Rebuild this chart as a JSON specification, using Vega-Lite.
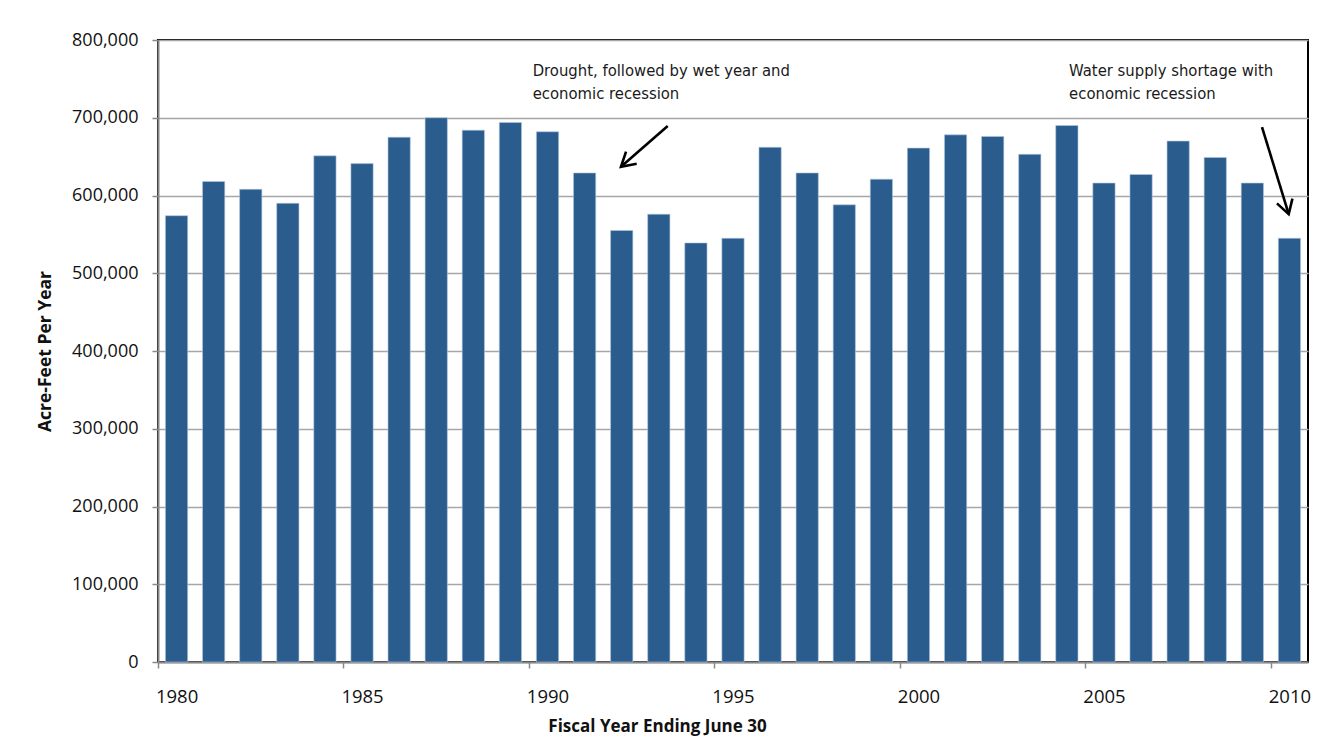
{
  "$schema": "https://vega.github.io/schema/vega-lite/v6.json",
  "autosize": {"type": "none"},
  "width": 1150,
  "height": 622,
  "padding": {"left": 158, "top": 40, "right": 11, "bottom": 87},
  "background": "white",
  "config": {
    "view": {"stroke": "#000000", "strokeWidth": 2},
    "font": "Open Sans",
    "axis": {"labelFont": "Open Sans", "titleFont": "Open Sans", "labelColor": "#111111", "titleColor": "#111111"}
  },
  "encoding": {
    "y": {
      "field": "af", "type": "quantitative",
      "scale": {"domain": [0, 800000], "nice": false},
      "axis": {
        "values": [0, 100000, 200000, 300000, 400000, 500000, 600000, 700000, 800000],
        "format": ",.0f", "labelFontSize": 18, "labelPadding": 14,
        "tickSize": 6, "tickColor": "#888888", "tickWidth": 1.5,
        "domainColor": "#888888", "domainWidth": 2,
        "gridColor": "#a6a6a6", "gridWidth": 1.5,
        "title": "Acre-Feet Per Year",
        "titleFontSize": 17.5, "titleFontWeight": "bold",
        "titleX": -113, "titleY": 311, "titleAlign": "center", "titleBaseline": "middle", "titleAngle": 270
      }
    }
  },
  "layer": [
    {
      "data": {"values": [
        {"year": 1980, "af": 574000}, {"year": 1981, "af": 618000}, {"year": 1982, "af": 608000},
        {"year": 1983, "af": 590000}, {"year": 1984, "af": 651000}, {"year": 1985, "af": 641000},
        {"year": 1986, "af": 675000}, {"year": 1987, "af": 700000}, {"year": 1988, "af": 684000},
        {"year": 1989, "af": 694000}, {"year": 1990, "af": 682000}, {"year": 1991, "af": 629000},
        {"year": 1992, "af": 555000}, {"year": 1993, "af": 576000}, {"year": 1994, "af": 539000},
        {"year": 1995, "af": 545000}, {"year": 1996, "af": 662000}, {"year": 1997, "af": 629000},
        {"year": 1998, "af": 588000}, {"year": 1999, "af": 621000}, {"year": 2000, "af": 661000},
        {"year": 2001, "af": 678000}, {"year": 2002, "af": 676000}, {"year": 2003, "af": 653000},
        {"year": 2004, "af": 690000}, {"year": 2005, "af": 616000}, {"year": 2006, "af": 627000},
        {"year": 2007, "af": 670000}, {"year": 2008, "af": 649000}, {"year": 2009, "af": 616000},
        {"year": 2010, "af": 545000}
      ]},
      "mark": {"type": "bar", "color": "#2B5C8E", "stroke": "#b4c7de", "strokeWidth": 0.6},
      "encoding": {
        "x": {
          "field": "year", "type": "ordinal",
          "scale": {"paddingInner": 0.4, "paddingOuter": 0.2},
          "axis": {
            "values": [1980, 1985, 1990, 1995, 2000, 2005, 2010],
            "labelAngle": 0, "labelFontSize": 18.5, "labelPadding": 19,
            "tickOffset": -18.55, "labelOffset": 18.55,
            "tickSize": 6, "tickColor": "#888888", "tickWidth": 1.5,
            "domainColor": "#888888", "domainWidth": 2,
            "title": "Fiscal Year Ending June 30",
            "titleFontSize": 17, "titleFontWeight": "bold",
            "titleX": 499, "titleY": 64, "titleAlign": "center", "titleBaseline": "middle", "titleAnchor": null
          }
        }
      }
    },
    {
      "layer": [
        {
          "data": {"values": [
            {"x": 1989.6, "af": 760500, "label": "Drought, followed by wet year and"},
            {"x": 1989.6, "af": 730500, "label": "economic recession"},
            {"x": 2004.06, "af": 760500, "label": "Water supply shortage with"},
            {"x": 2004.06, "af": 730500, "label": "economic recession"}
          ]},
          "mark": {"type": "text", "align": "left", "baseline": "middle", "font": "Liberation Sans Narrow, DejaVu Sans Condensed, sans-serif", "fontSize": 16.5, "color": "#1a1a1a"},
          "encoding": {
            "x": {"field": "x", "type": "quantitative", "scale": {"domain": [1979.5, 2010.5], "nice": false, "zero": false}, "axis": null},
            "text": {"field": "label"}
          }
        },
        {
          "data": {"values": [
            {"x": 1993.24, "af": 689300, "x2": 1991.98, "af2": 637000},
            {"x": 2009.26, "af": 688000, "x2": 2009.98, "af2": 576000}
          ]},
          "mark": {"type": "rule", "color": "#000000", "strokeWidth": 2.6},
          "encoding": {
            "x": {"field": "x", "type": "quantitative", "scale": {"domain": [1979.5, 2010.5], "nice": false, "zero": false}, "axis": null},
            "x2": {"field": "x2"},
            "y2": {"field": "af2"}
          }
        },
        {
          "data": {"values": [{"x": 1991.98, "af": 637000}]},
          "mark": {"type": "point", "shape": "M -0.5 -0.85 L 0 0 L 0.5 -0.85", "filled": false, "stroke": "#000000", "strokeWidth": 2.6, "size": 1050, "angle": 49, "opacity": 1},
          "encoding": {
            "x": {"field": "x", "type": "quantitative", "scale": {"domain": [1979.5, 2010.5], "nice": false, "zero": false}, "axis": null}
          }
        },
        {
          "data": {"values": [{"x": 2009.98, "af": 576000}]},
          "mark": {"type": "point", "shape": "M -0.5 -0.85 L 0 0 L 0.5 -0.85", "filled": false, "stroke": "#000000", "strokeWidth": 2.6, "size": 1050, "angle": 343, "opacity": 1},
          "encoding": {
            "x": {"field": "x", "type": "quantitative", "scale": {"domain": [1979.5, 2010.5], "nice": false, "zero": false}, "axis": null}
          }
        }
      ]
    }
  ],
  "resolve": {"scale": {"x": "independent"}, "axis": {"x": "independent"}}
}
